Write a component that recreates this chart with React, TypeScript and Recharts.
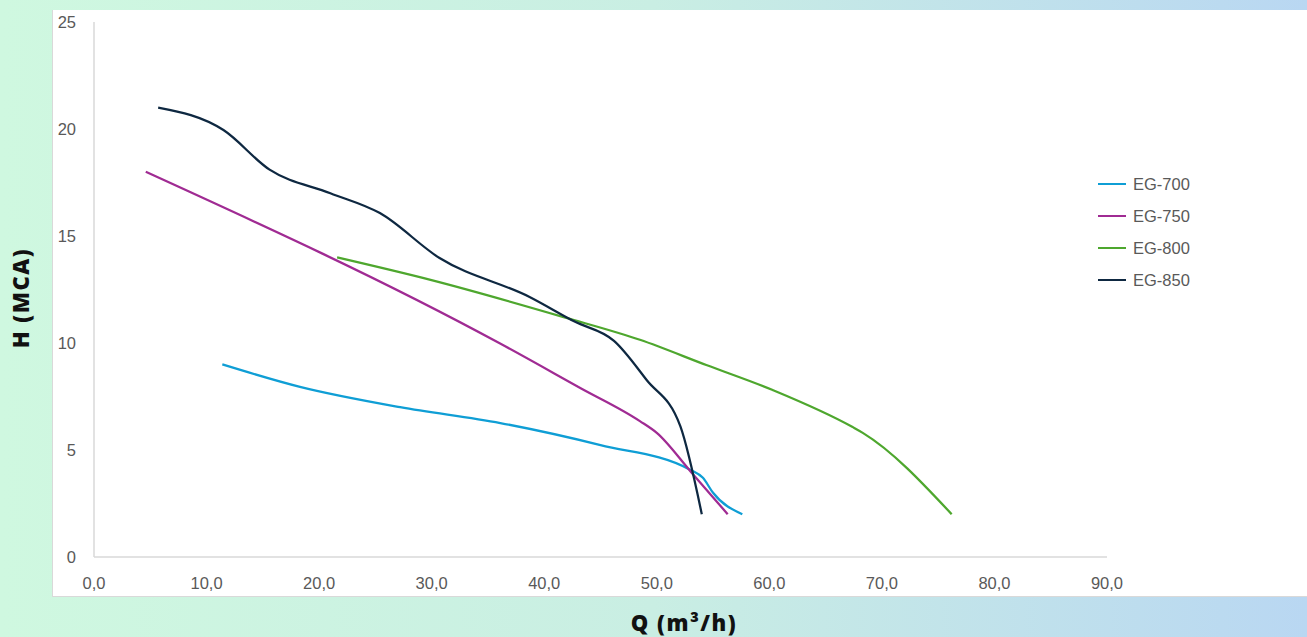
import { LineChart, Line, XAxis, YAxis } from "recharts";

// Curvas de bomba: Q (m³/h) x H (MCA)
const EG700_Q = [11.4, 18.3, 27.2, 36.1, 45, 53, 54.1, 55, 57.6];
const EG700_H = [9, 7.95, 7, 6.26, 5.23, 4.07, 3.7, 3, 2];

const EG750_Q = [4.6, 36, 43.2, 48.5, 50, 53, 56.3];
const EG750_H = [18, 10, 7.9, 6.35, 5.8, 4, 2];

const EG800_Q = [21.6, 29.9, 41.8, 48.5, 54.4, 60.3, 67.4, 68.3, 76.2];
const EG800_H = [14, 12.95, 11.2, 10.15, 8.97, 7.8, 6.07, 5.8, 2];

const EG850_Q = [5.7, 11.5, 15.6, 21, 25.4, 30.7, 38.7, 42.7, 46.2, 49.1, 52.1, 54];
const EG850_H = [21, 19.95, 18.1, 17, 16.07, 13.97, 12.15, 11, 10.1, 8.27, 6.1, 2];

const X_TICKS = [0, 10, 20, 30, 40, 50, 60, 70, 80, 90];
const Y_TICKS = [0, 5, 10, 15, 20, 25];

const toPoints = (q: number[], h: number[]) => q.map((v, i) => ({ q: v, h: h[i] }));

const SERIES = [
  { name: "EG-700", color: "#0F9ED5", data: toPoints(EG700_Q, EG700_H) },
  { name: "EG-750", color: "#A02B93", data: toPoints(EG750_Q, EG750_H) },
  { name: "EG-800", color: "#4EA72E", data: toPoints(EG800_Q, EG800_H) },
  { name: "EG-850", color: "#0E2841", data: toPoints(EG850_Q, EG850_H) },
];

const TICK_STYLE = {
  fill: "#595959",
  fontSize: 16.5,
  fontFamily: "'Liberation Sans', Arial, sans-serif",
};

const TITLE_STYLE: React.CSSProperties = {
  position: "absolute",
  fontFamily: "'Open Sans', sans-serif",
  fontWeight: 800,
  fontSize: 22,
  letterSpacing: 1.5,
  color: "#111",
  whiteSpace: "nowrap",
};

const AXIS_LINE = { stroke: "#d9d9d9", strokeWidth: 1.5 };

export default function App() {
  return (
    <div
      style={{
        position: "absolute",
        left: 0,
        top: 0,
        width: 1307,
        height: 637,
        overflow: "hidden",
        background: "linear-gradient(90deg, #cff8e0 0%, #c9eee3 50%, #b9d7f2 100%)",
      }}
    >
      <div
        style={{
          position: "absolute",
          left: 52,
          top: 10,
          width: 1255,
          height: 587,
          background: "#fff",
          borderLeft: "1px solid #d9d9d9",
          borderBottom: "1px solid #d9d9d9",
          boxSizing: "border-box",
        }}
      >
        <div style={{ position: "absolute", left: -1, top: 0 }}>
          <LineChart width={1255} height={587} margin={{ top: 12, right: 200, bottom: 0, left: 0 }}>
            <XAxis
              dataKey="q"
              type="number"
              domain={[0, 90]}
              ticks={X_TICKS}
              tickFormatter={(v: number) => v.toFixed(1).replace(".", ",")}
              tick={TICK_STYLE}
              tickLine={false}
              tickMargin={14}
              axisLine={AXIS_LINE}
              height={40}
              allowDuplicatedCategory={false}
            />
            <YAxis
              type="number"
              domain={[0, 25]}
              ticks={Y_TICKS}
              tick={TICK_STYLE}
              tickLine={false}
              tickMargin={12}
              axisLine={AXIS_LINE}
              width={42}
            />
            {SERIES.map((s) => (
              <Line
                key={s.name}
                data={s.data}
                dataKey="h"
                name={s.name}
                type="monotone"
                stroke={s.color}
                strokeWidth={2.25}
                dot={false}
                activeDot={false}
                isAnimationActive={false}
              />
            ))}
          </LineChart>
        </div>

        {/* legenda */}
        <div style={{ position: "absolute", left: 1045, top: 158 }}>
          {SERIES.map((s) => (
            <div key={s.name} style={{ height: 32, display: "flex", alignItems: "center" }}>
              <span style={{ display: "inline-block", width: 28, height: 2.5, background: s.color }} />
              <span style={{ ...TICK_STYLE, color: "#595959", marginLeft: 7, lineHeight: "32px" }}>{s.name}</span>
            </div>
          ))}
        </div>
      </div>

      <div style={{ ...TITLE_STYLE, left: 20, top: 298, transform: "translate(-50%, -50%) rotate(-90deg)" }}>
        H (MCA)
      </div>
      <div style={{ ...TITLE_STYLE, left: 684, top: 622, transform: "translate(-50%, -50%)" }}>
        Q (m³/h)
      </div>
    </div>
  );
}
